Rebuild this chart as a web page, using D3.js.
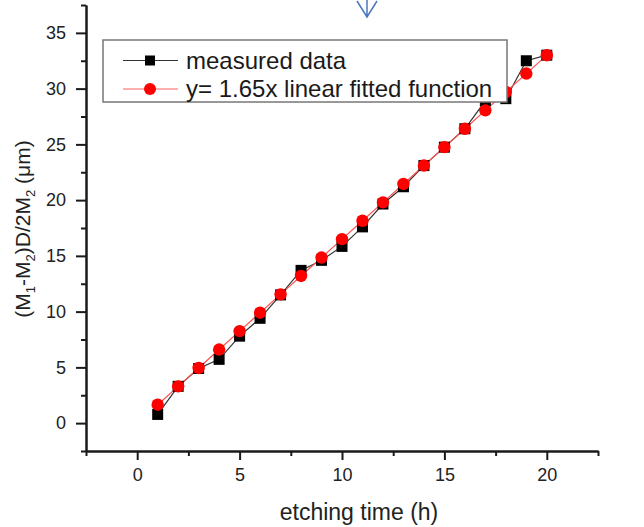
<!DOCTYPE html>
<html>
<head>
<meta charset="utf-8">
<script src="https://cdn.jsdelivr.net/npm/d3@7"></script>
<style>
  body { margin: 0; background: #fff; }
  svg { display: block; font-family: 'Liberation Sans', Arial, sans-serif; }
</style>
</head>
<body>
<div id="chart"></div>
<script>
// etching time (h)
const hours = [1, 2, 3, 4, 5, 6, 7, 8, 9, 10, 11, 12, 13, 14, 15, 16, 17, 18, 19, 20];
// measured (M1-M2)D/2M2 in um
const measured = [0.78, 3.3, 4.9, 5.72, 7.8, 9.4, 11.5, 13.7, 14.6, 15.85, 17.6, 19.65, 21.2, 23.1, 24.75, 26.4, 28.9, 29.1, 32.5, 33.0];
// y = 1.65x fit
const fitted = [1.65, 3.3, 4.95, 6.6, 8.25, 9.9, 11.55, 13.2, 14.85, 16.5, 18.15, 19.8, 21.45, 23.1, 24.75, 26.4, 28.05, 29.7, 31.35, 33.0];

const xTicks = [0, 5, 10, 15, 20];
const xMinor = [-2.5, 2.5, 7.5, 12.5, 17.5, 22.5];
const yTicks = [0, 5, 10, 15, 20, 25, 30, 35];
const yMinor = [-2.5, 2.5, 7.5, 12.5, 17.5, 22.5, 27.5, 32.5, 37.5];

const legendItems = ['measured data', 'y= 1.65x linear fitted function'];

const margin = { left: 86, right: 46, top: 5, bottom: 76 };
const W = 644, H = 527;
const width = W - margin.left - margin.right;
const height = H - margin.top - margin.bottom;

const svg = d3.select('#chart').append('svg')
  .attr('width', W)
  .attr('height', H);

const g = svg.append('g')
  .attr('transform', 'translate(' + margin.left + ',' + margin.top + ')');

const x = d3.scaleLinear().domain([-2.5, 22.5]).range([0, width]);
const y = d3.scaleLinear().domain([-2.5, 37.5]).range([height, 0]);

// axes
function styleAxis(sel) {
  sel.select('.domain').attr('stroke', '#1a1a1a').attr('stroke-width', 2);
  sel.selectAll('.tick line').attr('stroke', '#1a1a1a').attr('stroke-width', 2);
  sel.selectAll('.tick text').attr('fill', '#222').attr('font-size', '18px')
    .attr('font-family', "'Liberation Sans', Arial, sans-serif");
}

g.append('g')
  .attr('transform', 'translate(0,' + height + ')')
  .call(d3.axisBottom(x).tickValues(xMinor).tickFormat('').tickSize(5).tickSizeOuter(0))
  .call(styleAxis);
g.append('g')
  .attr('transform', 'translate(0,' + height + ')')
  .call(d3.axisBottom(x).tickValues(xTicks).tickFormat(d3.format('d')).tickSize(9).tickSizeOuter(0).tickPadding(8))
  .call(styleAxis);

g.append('g')
  .call(d3.axisLeft(y).tickValues(yMinor).tickFormat('').tickSize(5).tickSizeOuter(0))
  .call(styleAxis);
g.append('g')
  .call(d3.axisLeft(y).tickValues(yTicks).tickFormat(d3.format('d')).tickSize(10).tickSizeOuter(0).tickPadding(10))
  .call(styleAxis);

// axis titles
g.append('text')
  .attr('x', width / 2 + 17)
  .attr('y', height + 69)
  .attr('text-anchor', 'middle')
  .attr('font-size', '23px')
  .attr('fill', '#222')
  .text('etching time (h)');

const yTitle = g.append('text')
  .attr('transform', 'translate(' + (-56) + ',' + (229 - margin.top) + ') rotate(-90)')
  .attr('text-anchor', 'middle')
  .attr('font-size', '21px')
  .attr('fill', '#222');
yTitle.append('tspan').text('(M');
yTitle.append('tspan').attr('font-size', '13px').attr('dy', 5).text('1');
yTitle.append('tspan').attr('dy', -5).text('-M');
yTitle.append('tspan').attr('font-size', '13px').attr('dy', 5).text('2');
yTitle.append('tspan').attr('dy', -5).text(')D/2M');
yTitle.append('tspan').attr('font-size', '13px').attr('dy', 5).text('2');
yTitle.append('tspan').attr('dy', -5).text(' (\u03bcm)');

// lines
const measuredData = hours.map((h, i) => ({ x: h, y: measured[i] }));
const fittedData = hours.map((h, i) => ({ x: h, y: fitted[i] }));

const line = d3.line().x(d => x(d.x)).y(d => y(d.y));

g.append('path')
  .attr('d', line(measuredData))
  .attr('fill', 'none')
  .attr('stroke', '#333')
  .attr('stroke-width', 1.2);

g.append('path')
  .attr('d', line(fittedData))
  .attr('fill', 'none')
  .attr('stroke', '#ff5050')
  .attr('stroke-width', 1.2);

g.selectAll('.sq')
  .data(measuredData)
  .enter()
  .append('rect')
  .attr('class', 'sq')
  .attr('x', d => x(d.x) - 5.5)
  .attr('y', d => y(d.y) - 5.5)
  .attr('width', 11)
  .attr('height', 11)
  .attr('fill', '#000');

g.selectAll('.dot')
  .data(fittedData)
  .enter()
  .append('circle')
  .attr('class', 'dot')
  .attr('cx', d => x(d.x))
  .attr('cy', d => y(d.y))
  .attr('r', 6.2)
  .attr('fill', '#ff0000');

// legend
const legend = svg.append('g').attr('transform', 'translate(103,40)');
legend.append('rect')
  .attr('width', 404)
  .attr('height', 62)
  .attr('fill', '#fff')
  .attr('stroke', '#777')
  .attr('stroke-width', 1.5);

legendItems.forEach((label, i) => {
  const row = legend.append('g').attr('transform', 'translate(0,' + (20.5 + i * 28.5) + ')');
  row.append('line')
    .attr('x1', 20).attr('x2', 75)
    .attr('stroke', i === 0 ? '#333' : '#ff6060')
    .attr('stroke-width', 1.2);
  if (i === 0) {
    row.append('rect').attr('x', 42).attr('y', -5).attr('width', 10).attr('height', 10).attr('fill', '#000');
  } else {
    row.append('circle').attr('cx', 47).attr('r', 6).attr('fill', '#ff0000');
  }
  row.append('text')
    .attr('x', 83)
    .attr('dy', '0.35em')
    .attr('font-size', '24px')
    .attr('fill', '#1a1a1a')
    .text(label);
});

// blue arrow at the top
svg.append('path')
  .attr('d', 'M367,0 L367,16 M357,1 L367,17 L377,1')
  .attr('fill', 'none')
  .attr('stroke', '#4a78bf')
  .attr('stroke-width', 1.5);
</script>
</body>
</html>
